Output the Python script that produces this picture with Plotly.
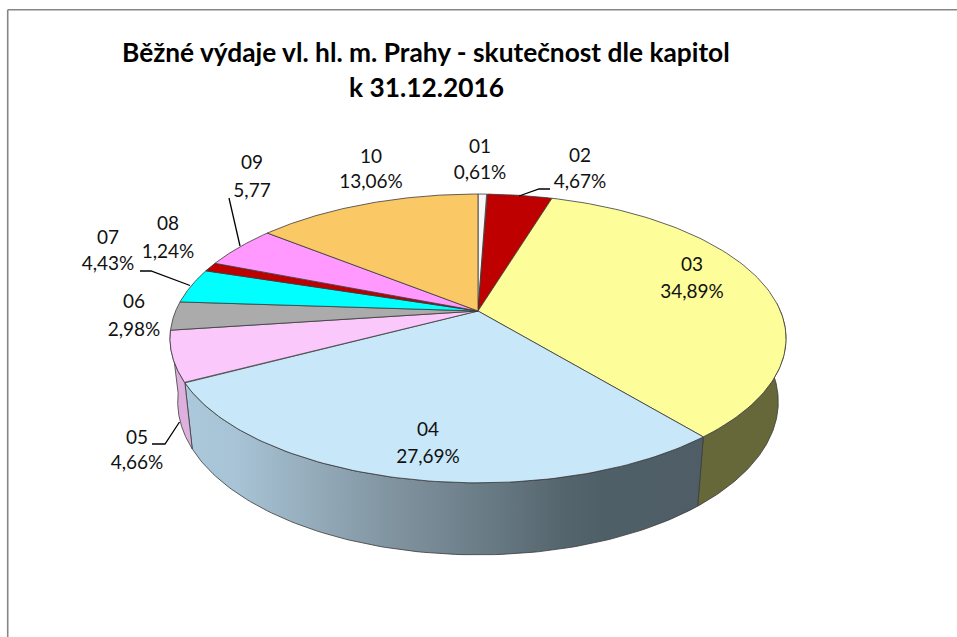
import numpy as np
import plotly.graph_objects as go

# ---- data ----
chapters = ["01", "02", "03", "04", "05", "06", "07", "08", "09", "10"]
shares = [0.61, 4.67, 34.89, 27.69, 4.66, 2.98, 4.43, 1.24, 5.77, 13.06]
share_labels = ["0,61%", "4,67%", "34,89%", "27,69%", "4,66%", "2,98%", "4,43%", "1,24%", "5,77", "13,06%"]
top_colors = ["#F7F7F7", "#BF0000", "#FDFD9A", "#C8E8FA", "#FBC8FB", "#ABABAB", "#00FFFF", "#BD0000", "#FF99FF", "#FAC864"]
wall_colors = ["#949494", "#730000", "#66683A", "#7C8F9A", "#DEB0DE", "#666666", "#009999", "#710000", "#995C99", "#96783C"]
title_lines = ["Běžné výdaje vl. hl. m. Prahy - skutečnost dle kapitol", "k 31.12.2016"]

# ---- layout of texts (pixels of the 957x637 frame) ----
label_x = [480, 580, 692, 428, 137, 134, 108, 168, 252, 371]
label_y1 = [148, 157, 266, 431, 439, 303, 239, 225, 164, 158]
label_y2 = [174, 183, 293, 458, 464, 331, 265, 253, 192, 183]
leaders = [
    ([519, 539, 550], [196, 189, 189]),
    ([179.5, 165, 152], [422, 444, 444]),
    ([190, 151, 140], [285.5, 271, 271]),
    ([240, 229], [246, 198]),
]

# ---- projection of the tilted pie ----
APEX_X, APEX_Y = 478.0, 311.0
PERSP, SCALE_X, SCALE_Y = 0.19, 302.4, 139.2
WALL_SHRINK, WALL_CX = 0.975, 477.0
# the spreadsheet's 3-D renderer bends angles a little: degrees vs. correction
WARP_AT = [0, 19, 145, 244, 262, 272, 288, 313, 360]
WARP_BY = [0, -2.2, -4.1, -2.4, 1.4, 2.0, 0, -4.2, 0]
WALL_FROM, WALL_TO = 90, 261


def rim(theta):
    theta = np.asarray(theta, dtype=float)
    t = np.radians(theta + np.interp(theta, WARP_AT, WARP_BY))
    u, v = np.sin(t), np.cos(t)
    w = 1 + PERSP * v
    return APEX_X + SCALE_X * u / w, APEX_Y - SCALE_Y * v / w


def rim_low(theta):
    x, y = rim(theta)
    return WALL_CX + (x - WALL_CX) * WALL_SHRINK, y + 72 + 0.06 * (y - 483)


fig = go.Figure()
edges = np.concatenate([[0], np.cumsum(shares)]) / np.sum(shares) * 360
line = dict(color="#3A3A3A", width=0.8)

# walls
wall_fill = {
    "04": dict(fillgradient=dict(type="horizontal", colorscale=[
        [0.0, "#ABC9DC"], [0.1, "#A7C3D5"], [0.25, "#94ABBA"], [0.41, "#7F929E"],
        [0.565, "#6B7E88"], [0.73, "#55656E"], [0.81, "#4F5F68"], [1.0, "#4F5E66"]])),
}
for i, name in enumerate(chapters):
    a, b = max(edges[i], WALL_FROM), min(edges[i + 1], WALL_TO)
    if b <= a:
        continue
    th = np.linspace(a, b, 100)
    xt, yt = rim(th)
    xb, yb = rim_low(th)
    fig.add_trace(go.Scatter(
        x=np.concatenate([xt, xb[::-1], xt[:1]]), y=np.concatenate([yt, yb[::-1], yt[:1]]),
        mode="lines", fill="toself", line=line, name=name, showlegend=False, hoverinfo="skip",
        **wall_fill.get(name, dict(fillcolor=wall_colors[i]))))

# top faces
for i, name in enumerate(chapters):
    th = np.linspace(edges[i], edges[i + 1], 100)
    xt, yt = rim(th)
    fig.add_trace(go.Scatter(
        x=np.concatenate([[APEX_X], xt, [APEX_X]]), y=np.concatenate([[APEX_Y], yt, [APEX_Y]]),
        mode="lines", fill="toself", fillcolor=top_colors[i], line=line,
        name=name, showlegend=False, hoverinfo="skip"))

# leader lines
for lx, ly in leaders:
    fig.add_trace(go.Scatter(x=lx, y=ly, mode="lines", line=dict(color="black", width=1.3),
                             showlegend=False, hoverinfo="skip"))

# data labels
label_font = dict(family="Lato", size=19, color="#111111")
fig.add_trace(go.Scatter(x=label_x, y=label_y1, mode="text", text=chapters, textposition="middle center",
                         textfont=label_font, showlegend=False, hoverinfo="skip"))
fig.add_trace(go.Scatter(x=label_x, y=label_y2, mode="text", text=share_labels, textposition="middle center",
                         textfont=label_font, showlegend=False, hoverinfo="skip"))

# title
for text, y in zip(title_lines, [52, 87]):
    fig.add_annotation(x=426, y=y, xref="x", yref="y", text=text, showarrow=False,
                       xanchor="center", yanchor="middle",
                       font=dict(family="Lato", size=26.3, color="black", weight="bold"))

# chart frame (continues past the crop on the right and bottom)
frame = dict(type="line", xref="x", yref="y", line=dict(color="#868686", width=1.6), layer="below")
fig.add_shape(x0=7.7, x1=7.7, y0=9.7, y1=637, **frame)
fig.add_shape(x0=7.7, x1=957, y0=9.7, y1=9.7, **frame)

fig.update_layout(
    width=957, height=637, margin=dict(l=0, r=0, t=0, b=0),
    paper_bgcolor="white", plot_bgcolor="white", showlegend=False,
    xaxis=dict(range=[0, 957], visible=False, fixedrange=True),
    yaxis=dict(range=[637, 0], visible=False, fixedrange=True),
)
fig.write_html("out.html", post_script="document.body.style.margin='0';document.body.style.overflow='hidden';",
               config=dict(displayModeBar=False))
